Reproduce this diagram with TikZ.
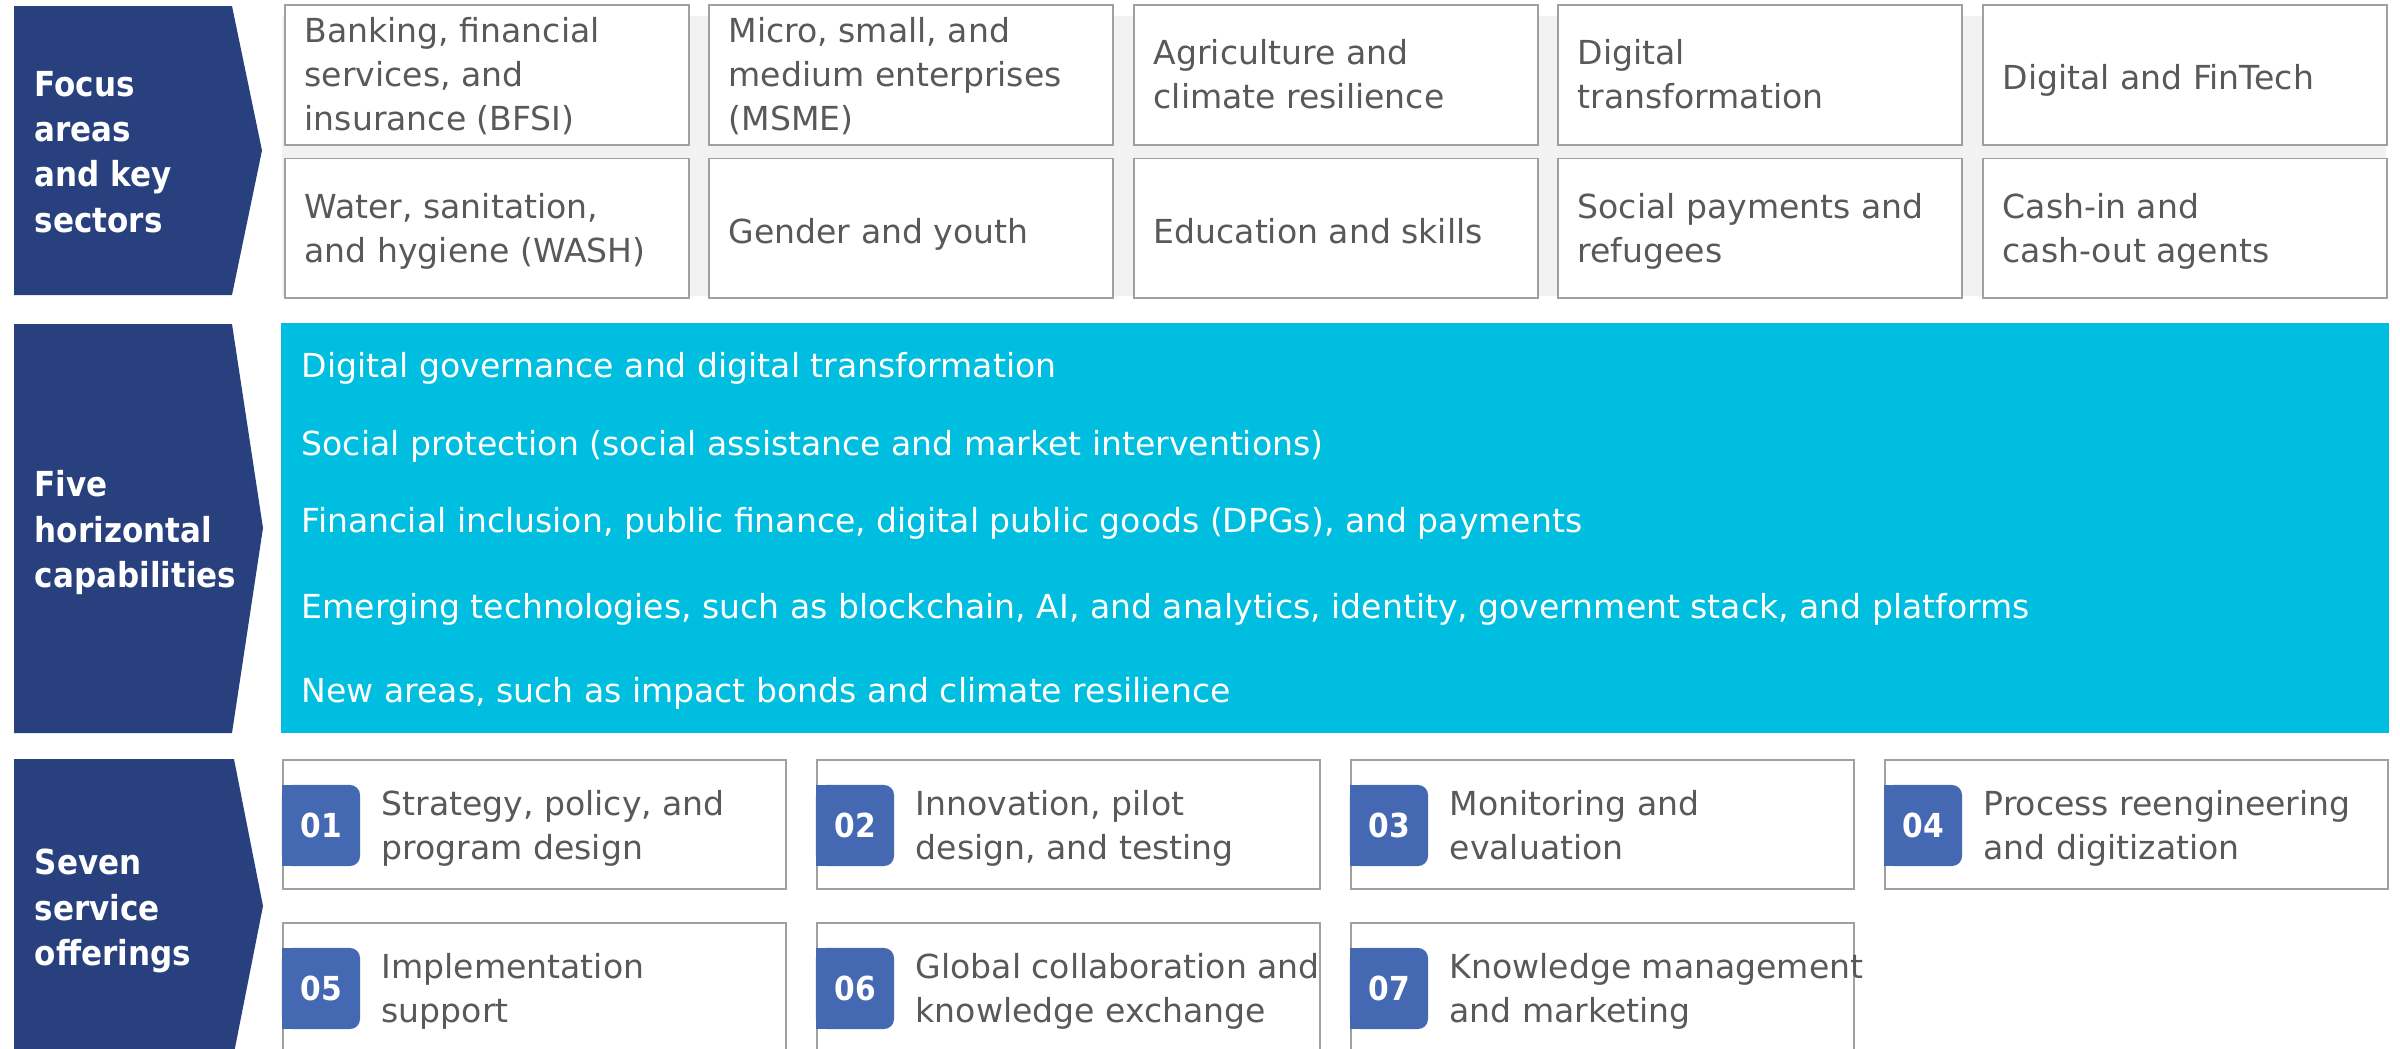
\documentclass[tikz,border=0pt]{standalone}
\usepackage{fontspec}
\setmainfont{DejaVu Sans}
\newfontfamily\lblfont{DejaVu Sans}[FakeStretch=0.9]
\usetikzlibrary{positioning}

\definecolor{navy}{HTML}{28407E}
\definecolor{cyanband}{HTML}{00BEDF}
\definecolor{badgeblue}{HTML}{4468B1}
\definecolor{panelgray}{HTML}{F2F2F2}
\definecolor{boxline}{HTML}{A0A0A0}
\definecolor{bodytext}{HTML}{595959}

\tikzset{
  struts/.style={execute at begin node=\strut, execute at end node=\strut},
  sector/.style={draw=boxline, line width=0.55pt, fill=white, inner sep=0pt,
    minimum width=4.035cm, minimum height=1.395cm, anchor=north west},
  sectortext/.style={anchor=west, text=bodytext, align=left, inner sep=0pt,
    struts, yshift=-0.06cm, font=\fontsize{9.4pt}{12.5pt}\selectfont},
  svc/.style={draw=boxline, line width=0.55pt, fill=white, inner sep=0pt,
    minimum width=5.03cm, minimum height=1.29cm, anchor=north west},
  badge/.style={fill=badgeblue, rounded corners=0.1cm, inner sep=0pt,
    minimum width=0.78cm, minimum height=0.81cm, text=white,
    font=\lblfont\bfseries\fontsize{9.4pt}{11.7pt}\selectfont},
  svctext/.style={anchor=west, text=bodytext, align=left, inner sep=0pt,
    struts, yshift=-0.06cm, font=\fontsize{9.4pt}{12.5pt}\selectfont},
  lbl/.style={anchor=west, text=white, align=left, inner sep=0pt,
    struts, yshift=-0.08cm, font=\lblfont\bfseries\fontsize{9.8pt}{12.9pt}\selectfont},
  bandtext/.style={anchor=base west, text=white, inner sep=0pt,
    font=\fontsize{9.4pt}{11.7pt}\selectfont},
}

% one sector tile: name, left, top, text
\newcommand\sectortile[4]{%
  \node[sector] (#1) at (#2,#3) {};
  \node[sectortext] (#1t) at ([xshift=0.2cm]#1.west) {#4};
}
% one service tile: name, left, top, number, text
\newcommand\offering[5]{%
  \node[svc] (#1) at (#2,#3) {};
  \fill[badgeblue] (#2,#3+26) rectangle (#2+40,#3+107);
  \node[badge] (#1n) at (#2+39,#3+66.5) {#4};
  \node[svctext] (#1t) at (#2+99,#3+66.5) {#5};
}

\begin{document}
\begin{tikzpicture}[x=0.01cm,y=-0.01cm]
\useasboundingbox (0,0) rectangle (2400,1048);
\clip (0,0) rectangle (2400,1048);
\fill[white] (0,0) rectangle (2400,1048);

% ---- focus areas and key sectors ----
\fill[navy] (14,6) -- (232,6) -- (262,150.5) -- (232,295) -- (14,295) -- cycle;
\node[lbl] (lfocus) at (34,150.5) {Focus\\areas\\and key\\sectors};

\fill[panelgray] (282,16) rectangle (2386,296);

\sectortile{a1}{284}{4}{Banking, financial\\services, and\\insurance (BFSI)}
\sectortile{a2}{708}{4}{Micro, small, and\\medium enterprises\\(MSME)}
\sectortile{a3}{1133}{4}{Agriculture and\\climate resilience}
\sectortile{a4}{1557}{4}{Digital\\transformation}
\sectortile{a5}{1982}{4}{Digital and FinTech}

\sectortile{b1}{284}{157.5}{Water, sanitation,\\and hygiene (WASH)}
\sectortile{b2}{708}{157.5}{Gender and youth}
\sectortile{b3}{1133}{157.5}{Education and skills}
\sectortile{b4}{1557}{157.5}{Social payments and\\refugees}
\sectortile{b5}{1982}{157.5}{Cash-in and\\cash-out agents}

% ---- five horizontal capabilities ----
\fill[navy] (14,324) -- (232,324) -- (263,528) -- (232,733) -- (14,733) -- cycle;
\node[lbl] (lfive) at (34,528) {Five\\horizontal\\capabilities};

\fill[cyanband] (281,323) rectangle (2389,733);
\node[bandtext] (c1) at (301,377) {Digital governance and digital transformation};
\node[bandtext] (c2) at (301,455) {Social protection (social assistance and market interventions)};
\node[bandtext] (c3) at (301,532) {Financial inclusion, public finance, digital public goods (DPGs), and payments};
\node[bandtext] (c4) at (301,618) {Emerging technologies, such as blockchain, AI, and analytics, identity, government stack, and platforms};
\node[bandtext] (c5) at (301,702) {New areas, such as impact bonds and climate resilience};

% ---- seven service offerings ----
\fill[navy] (14,759) -- (234,759) -- (263,906) -- (234,1053) -- (14,1053) -- cycle;
\node[lbl] (lseven) at (34,906) {Seven\\service\\offerings};

\offering{s1}{282}{759}{01}{Strategy, policy, and\\program design}
\offering{s2}{816}{759}{02}{Innovation, pilot\\design, and testing}
\offering{s3}{1350}{759}{03}{Monitoring and\\evaluation}
\offering{s4}{1884}{759}{04}{Process reengineering\\and digitization}
\offering{s5}{282}{922}{05}{Implementation\\support}
\offering{s6}{816}{922}{06}{Global collaboration and\\knowledge exchange}
\offering{s7}{1350}{922}{07}{Knowledge management\\and marketing}
\end{tikzpicture}
\end{document}
